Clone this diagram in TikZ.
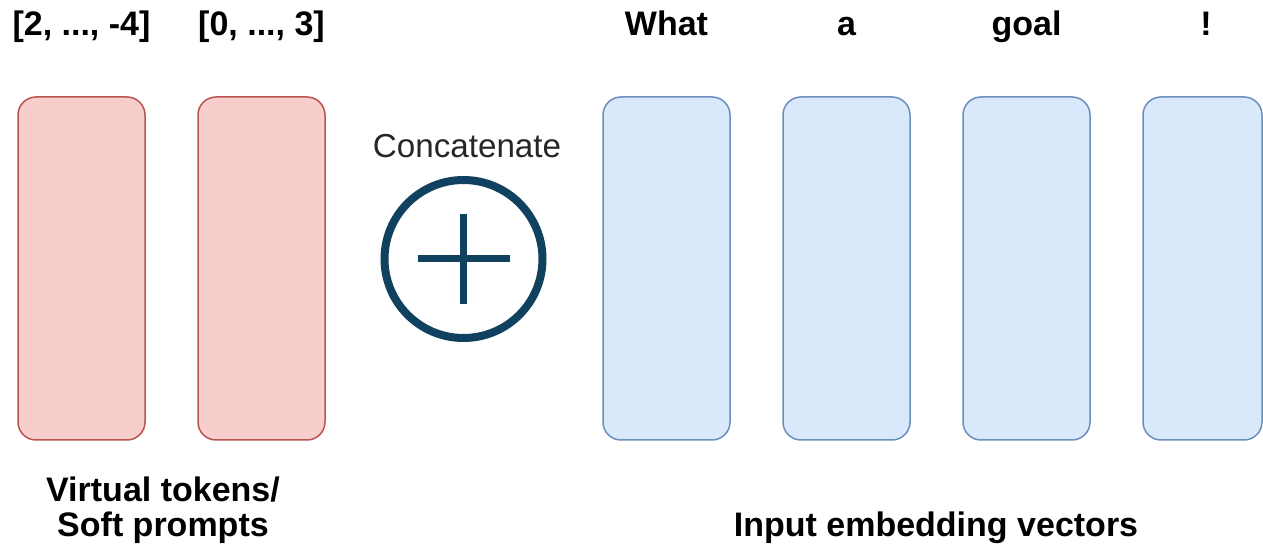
\documentclass[tikz,border=0pt]{standalone}
\usepackage{fontspec}
\setmainfont{Liberation Sans}

\definecolor{promptfill}{HTML}{F8CECC}
\definecolor{promptline}{HTML}{B85450}
\definecolor{embedfill}{HTML}{DAE8FC}
\definecolor{embedline}{HTML}{6C8EBF}
\definecolor{plusblue}{HTML}{10425F}

\tikzset{
  token/.style={rounded corners=9pt, line width=0.75pt, minimum width=63.5pt,
    minimum height=171.5pt, inner sep=0pt},
  softtok/.style={token, draw=promptline, fill=promptfill},
  embtok/.style={token, draw=embedline, fill=embedfill},
  word/.style={font=\fontsize{17}{17.5}\selectfont\bfseries, anchor=base, inner sep=0pt},
}

\begin{document}
\begin{tikzpicture}[x=0.5pt, y=-0.5pt]
      \useasboundingbox (0,0) rectangle (1263,549);

      % virtual tokens
      \node[softtok] (soft1) at (81.5,268.5) {};
      \node[softtok] (soft2) at (261.5,268.5) {};
      \node[word] (val1) at (81.5,36) {[2, ..., -4]};
      \node[word] (val2) at (261.5,36) {[0, ..., 3]};

      % concatenation symbol
      \node[circle, draw=plusblue, line width=4pt, minimum size=79pt, inner sep=0pt] (concat) at (463.5,259) {};
      \draw[plusblue, line width=3.5pt] (concat.center) ++(-46,0) -- ++(92,0);
      \draw[plusblue, line width=3.5pt] (concat.center) ++(0,-45) -- ++(0,90);
      \node[anchor=base, inner sep=0pt, text=black!85, font=\fontsize{16.6}{16.6}\selectfont] (concatlabel) at (467,158) {Concatenate};

      % input embeddings
      \node[embtok] (emb1) at (666.5,268.5) {};
      \node[embtok] (emb2) at (846.5,268.5) {};
      \node[embtok] (emb3) at (1026.5,268.5) {};
      \node[embtok, minimum width=59.5pt] (emb4) at (1202.5,268.5) {};
      \node[word] (tok1) at (666.5,36) {What};
      \node[word] (tok2) at (846.5,36) {a};
      \node[word] (tok3) at (1026.5,36) {goal};
      \node[word] (tok4) at (1206,36) {!};

      % captions (base anchor sits on the last line)
      \node[word, align=center] (softlabel) at (163,537) {Virtual tokens/\\Soft prompts};
      \node[word] (emblabel) at (936,537) {Input embedding vectors};
    \end{tikzpicture}
\end{document}
